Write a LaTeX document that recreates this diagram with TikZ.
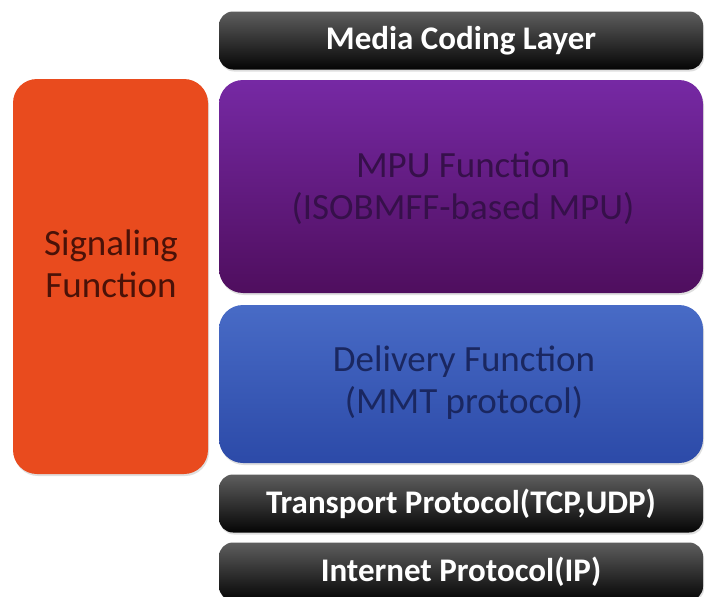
\documentclass[tikz,border=0pt]{standalone}
\usepackage{fontspec}
\setmainfont{Carlito}
\usetikzlibrary{shadows}
\definecolor{barTop}{HTML}{5E5E5E}
\definecolor{barBot}{HTML}{050505}
\definecolor{sigFill}{HTML}{E94B1E}
\definecolor{sigText}{HTML}{4A1208}
\definecolor{mpuTop}{HTML}{7629A4}
\definecolor{mpuBot}{HTML}{4F0E5E}
\definecolor{mpuText}{HTML}{36104A}
\definecolor{delTop}{HTML}{486BC6}
\definecolor{delBot}{HTML}{2C4AA8}
\definecolor{delText}{HTML}{1A2760}
\begin{document}
\begin{tikzpicture}[x=1pt,y=-1pt,
  softshadow/.style={drop shadow={opacity=0.25, shadow xshift=1pt, shadow yshift=-2pt}},
  darkbar/.style={rectangle, rounded corners=14pt, top color=barTop, bottom color=barBot,
    text=white, font=\bfseries\fontsize{33}{38}\selectfont,
    minimum width=484pt, minimum height=58pt, inner sep=0pt, softshadow},
  bigbox/.style={rectangle, rounded corners=24pt, inner sep=0pt, softshadow},
  bigtext/.style={inner sep=0pt, align=center, font=\fontsize{37}{42}\selectfont}
]
\useasboundingbox (0,0) rectangle (705,597);
\fill[white] (0,0) rectangle (705,597);

\node[darkbar] (mcl) at (461,40.5) {Media Coding Layer};

\node[bigbox, top color=mpuTop, bottom color=mpuBot,
  minimum width=484pt, minimum height=213pt] (mpu) at (461,186.5) {};
\node[bigtext, text=mpuText] (mputxt) at (463,188) {MPU Function\\(ISOBMFF-based MPU)};

\node[bigbox, top color=delTop, bottom color=delBot,
  minimum width=484pt, minimum height=158pt] (del) at (461,384) {};
\node[bigtext, text=delText] (deltxt) at (464,383) {Delivery Function\\(MMT protocol)};

\node[bigbox, fill=sigFill,
  minimum width=195pt, minimum height=395pt] (sig) at (110.5,276.5) {};
\node[bigtext, text=sigText] (sigtxt) at (111,264) {Signaling\\Function};

\node[darkbar] (tcp) at (461,503.5) {Transport Protocol(TCP,UDP)};
\node[darkbar] (ip) at (461,571.5) {Internet Protocol(IP)};
\end{tikzpicture}
\end{document}
